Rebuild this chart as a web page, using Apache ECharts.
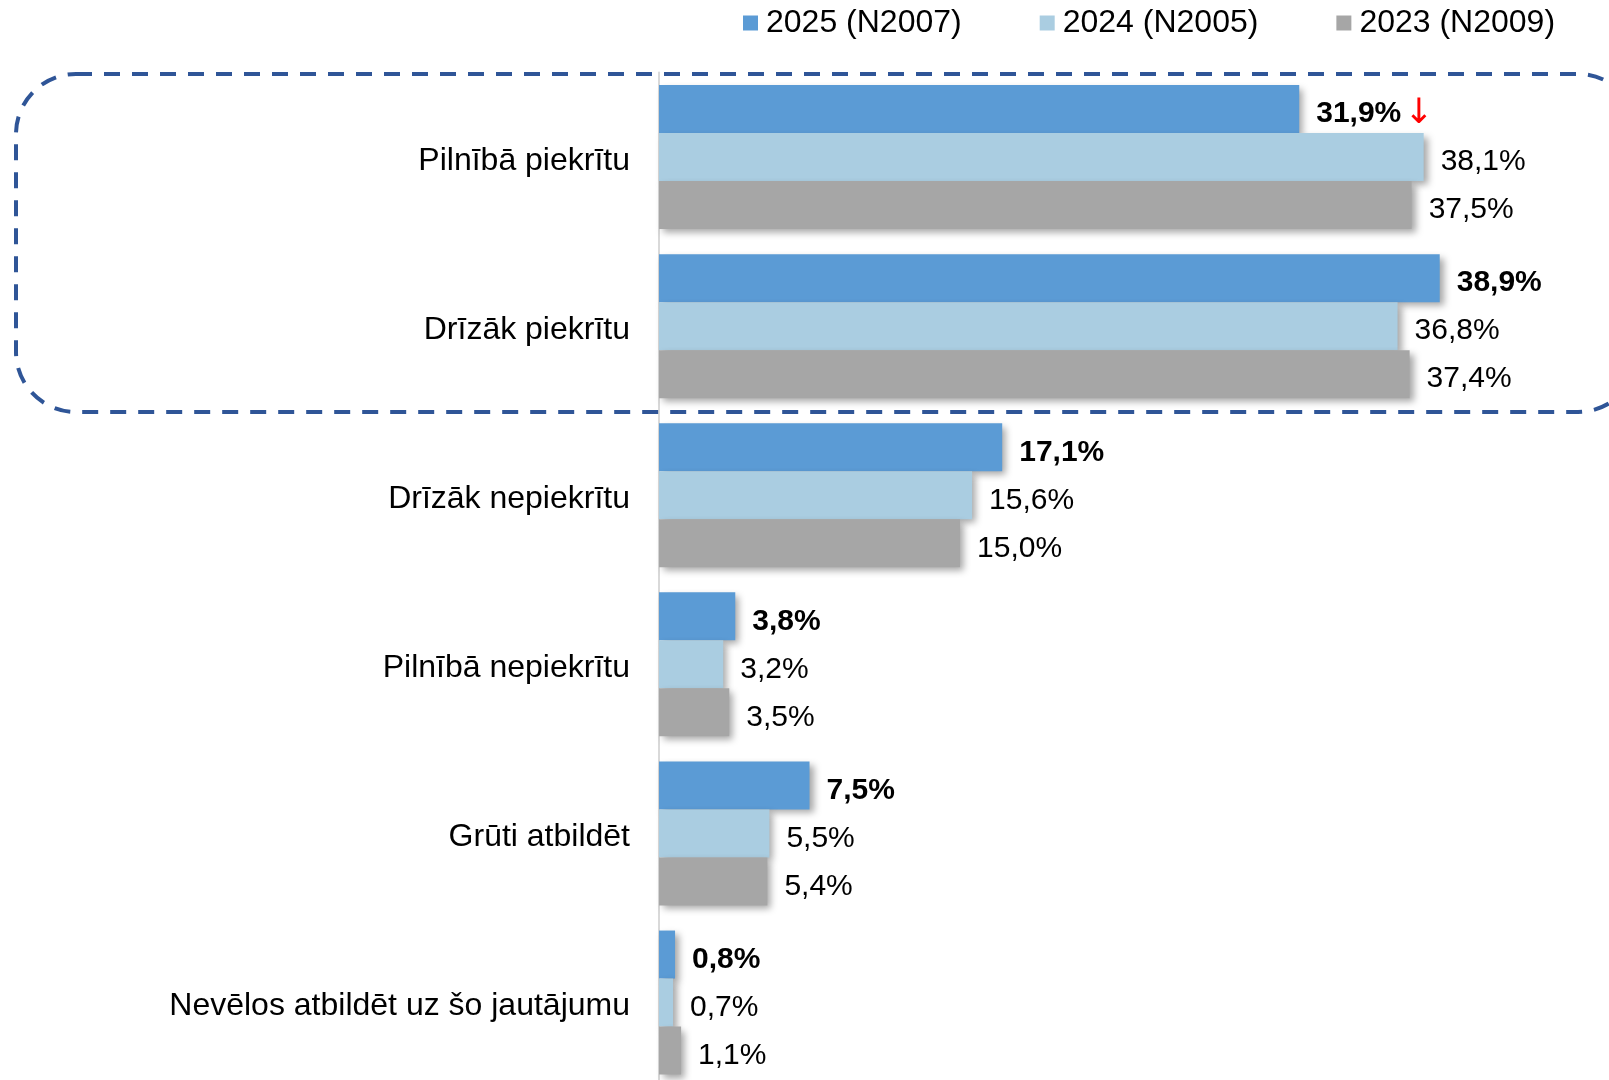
<!DOCTYPE html>
<html><head><meta charset="utf-8">
<script src="https://cdn.jsdelivr.net/npm/echarts@6/dist/echarts.min.js"></script>
<style>html,body{margin:0;padding:0;background:#fff}#c{width:1609px;height:1080px}</style>
</head><body><div id="c"></div>
<script>
const categories = ['Pilnībā piekrītu','Drīzāk piekrītu','Drīzāk nepiekrītu','Pilnībā nepiekrītu','Grūti atbildēt','Nevēlos atbildēt uz šo jautājumu'];
const seriesNames = ['2025 (N2007)','2024 (N2005)','2023 (N2009)'];
const values2025 = [31.9, 38.9, 17.1, 3.8, 7.5, 0.8];
const values2024 = [38.1, 36.8, 15.6, 3.2, 5.5, 0.7];
const values2023 = [37.5, 37.4, 15.0, 3.5, 5.4, 1.1];
const downMarks2025 = [true, false, false, false, false, false];
const colors = ['#5B9BD5', '#AACDE1', '#A6A6A6'];

const FONT = '"Liberation Sans", Arial, sans-serif';
const fmt = v => v.toFixed(1).replace('.', ',') + '%';

const chart = echarts.init(document.getElementById('c'));
function mkSeries(name, data, color, bold, marks) {
  return {
    name: name, type: 'bar', data: data, barWidth: 48, barGap: '0%',
    itemStyle: { color: color, shadowBlur: 7, shadowOffsetX: 4, shadowOffsetY: 4, shadowColor: 'rgba(0,0,0,0.35)' },
    label: {
      show: true, position: 'right', distance: 17, offset: [0, 5],
      fontFamily: FONT, fontSize: 30, color: '#000', fontWeight: bold ? 'bold' : 'normal',
      formatter: p => (marks && marks[p.dataIndex]) ? '{v|' + fmt(p.value) + '}{a|↓}' : fmt(p.value),
      rich: {
        v: { fontFamily: FONT, fontSize: 30, fontWeight: 'bold', color: '#000' },
        a: { fontFamily: '"DejaVu Sans"', fontSize: 35, fontWeight: 'normal', color: '#FF0000', padding: [0,0,0,3] }
      }
    }
  };
}
chart.setOption({
  animation: false,
  backgroundColor: '#fff',
  color: colors,
  legend: {
    top: 2, left: 738, padding: 5, itemWidth: 15, itemHeight: 15, itemGap: 78,
    icon: 'rect',
    textStyle: { fontFamily: FONT, fontSize: 32, color: '#000', padding: [0,0,0,3] },
    data: seriesNames
  },
  grid: { left: 659, top: 72.5, width: 802.8, height: 1014.6, containLabel: false, outerBoundsMode: 'none' },
  xAxis: { type: 'value', min: 0, max: 40, show: false },
  yAxis: {
    type: 'category', data: categories, inverse: true,
    axisLine: { show: true, lineStyle: { color: '#D9D9D9', width: 2 } },
    axisTick: { show: false },
    axisLabel: {
      fontFamily: FONT, fontSize: 32, color: '#000', margin: 29,
      formatter: v => '{l|' + v + '}',
      rich: { l: { fontFamily: FONT, fontSize: 32, color: '#000', padding: [8, 0, 0, 0] } }
    }
  },
  series: [
    mkSeries(seriesNames[0], values2025, colors[0], true, downMarks2025),
    mkSeries(seriesNames[1], values2024, colors[1], false),
    mkSeries(seriesNames[2], values2023, colors[2], false)
  ],
  graphic: [{
    type: 'rect', z: 100, silent: true,
    shape: { x: 16, y: 74, width: 1622, height: 338, r: 60 },
    style: { fill: 'none', stroke: '#2F5597', lineWidth: 4, lineDash: [16, 12] }
  }]
});
</script></body></html>
